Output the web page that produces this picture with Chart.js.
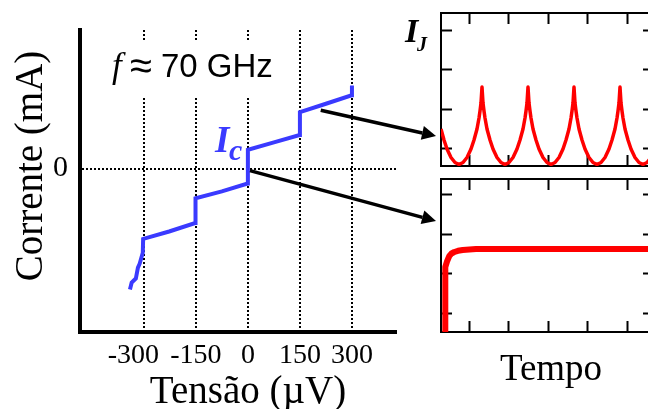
<!DOCTYPE html>
<html>
<head>
<meta charset="utf-8">
<script src="https://cdn.jsdelivr.net/npm/chart.js@4.4.0/dist/chart.umd.min.js"></script>
<style>
  body { margin: 0; background: #fff; overflow: hidden; width: 648px; height: 409px; position: relative; }
  canvas { position: absolute; }
  #curvaIV { left: 0; top: 0; }
  #painelAC { left: 437px; top: 9px; }
  #painelDC { left: 437px; top: 175px; }
</style>
</head>
<body>
<canvas id="curvaIV" width="648" height="409"></canvas>
<canvas id="painelAC" width="222" height="161"></canvas>
<canvas id="painelDC" width="222" height="161"></canvas>
<script>
// curva I-V com degraus de Shapiro (tensao em uV, corrente em unidades arbitrarias)
const tensao = [-340, -335, -323, -317, -312, -303, -302, -227, -152, -151, -75, -1, 0, 75, 149, 150, 225, 299, 300];
const corrente = [-2.44, -2.30, -2.22, -2.00, -1.92, -1.70, -1.42, -1.27, -1.10, -0.60, -0.46, -0.30, 0.38, 0.53, 0.68, 1.14, 1.31, 1.48, 1.68];
const tensaoTicks = [-300, -150, 0, 150, 300];
const correnteTicks = [0];

// I_J(t) no degrau (painel de cima) e em I < Ic (painel de baixo), unidades arbitrarias
const tempoAC = [0, 3, 6, 10, 14, 18, 22, 26, 30, 33, 36, 38, 39, 40, 41,
  42, 43, 44, 46, 49, 52, 56, 60, 64, 68, 72, 76, 79, 82, 84, 85, 86, 87,
  88, 89, 90, 92, 95, 98, 102, 106, 110, 114, 118, 122, 125, 128, 130, 131, 132, 133,
  134, 135, 136, 138, 141, 144, 148, 152, 156, 160, 164, 168, 171, 174, 176, 177, 178, 179,
  180, 181, 182, 184, 187, 190, 194, 198, 202, 206, 210, 213];
const ijAC = [37, 26, 17, 8.5, 3.5, 1.5, 3.5, 8.5, 17, 26, 37, 48, 55, 63, 79,
  63, 55, 48, 37, 26, 17, 8.5, 3.5, 1.5, 3.5, 8.5, 17, 26, 37, 48, 55, 63, 79,
  63, 55, 48, 37, 26, 17, 8.5, 3.5, 1.5, 3.5, 8.5, 17, 26, 37, 48, 55, 63, 79,
  63, 55, 48, 37, 26, 17, 8.5, 3.5, 1.5, 3.5, 8.5, 17, 26, 37, 48, 55, 63, 79,
  63, 55, 48, 37, 26, 17, 8.5, 3.5, 1.5, 3.5, 8.5, 15];
const tempoDC = [4, 4, 4.1, 4.3, 4.8, 6, 8.3, 10.5, 13.3, 17, 21.7, 35, 213];
const ijDC = [-2, 30, 45, 58, 65, 70.5, 76, 78.5, 80, 81.2, 82, 83, 83];
const tempoTicks = [28, 67.5, 107, 146.5, 186];
const ijTicksAC = [18, 57, 97, 136];
const ijTicksDC = [19, 59, 98, 137];

const serif = 'Liberation Serif';
const sans = 'Liberation Sans';

function seta(ctx, x1, y1, x2, y2) {
  const a = Math.atan2(y2 - y1, x2 - x1);
  const L = 14, W = 7;
  const bx = x2 - L * Math.cos(a), by = y2 - L * Math.sin(a);
  ctx.beginPath();
  ctx.moveTo(x1, y1);
  ctx.lineTo(bx, by);
  ctx.lineWidth = 3.5;
  ctx.strokeStyle = '#000';
  ctx.stroke();
  ctx.beginPath();
  ctx.moveTo(x2, y2);
  ctx.lineTo(bx + W * Math.sin(a), by - W * Math.cos(a));
  ctx.lineTo(bx - W * Math.sin(a), by + W * Math.cos(a));
  ctx.closePath();
  ctx.fillStyle = '#000';
  ctx.fill();
}

const anotacoes = {
  id: 'anotacoes',
  beforeDatasetsDraw(chart) {
    const ctx = chart.ctx;
    ctx.save();
    ctx.fillStyle = '#fff';
    ctx.fillRect(104, 40, 176, 56);
    ctx.restore();
  },
  afterDraw(chart) {
    const ctx = chart.ctx;
    const sx = chart.scales.x, sy = chart.scales.y;
    ctx.save();
    ctx.fillStyle = '#000';
    ctx.textBaseline = 'alphabetic';

    ctx.font = 'italic 35px ' + serif;
    ctx.fillText('f', 112, 77);
    ctx.font = '40px ' + sans;
    ctx.fillText('\u2248', 130, 79);
    ctx.font = '33px ' + sans;
    ctx.fillText('70 GHz', 161, 77);

    ctx.fillStyle = '#3a3aff';
    ctx.font = 'italic bold 37px ' + serif;
    ctx.fillText('I', 215, 152);
    ctx.font = 'italic bold 30px ' + serif;
    ctx.fillText('c', 229, 160);

    seta(ctx, sx.getPixelForValue(210), sy.getPixelForValue(1.18), 436, 136);
    seta(ctx, sx.getPixelForValue(6), sy.getPixelForValue(-0.04), 436, 221);

    ctx.fillStyle = '#000';
    ctx.textAlign = 'center';
    ctx.font = '39px ' + serif;
    ctx.fillText('Tens\u00e3o (\u00b5V)', 248, 403);
    ctx.font = '37px ' + serif;
    ctx.fillText('Tempo', 551, 380);

    ctx.save();
    ctx.translate(42, 166);
    ctx.rotate(-Math.PI / 2);
    ctx.font = '39px ' + serif;
    ctx.fillText('Corrente (mA)', 0, 0);
    ctx.restore();

    ctx.textAlign = 'left';
    ctx.font = 'italic bold 34px ' + serif;
    ctx.fillText('I', 405, 42);
    ctx.font = 'italic bold 20px ' + serif;
    ctx.fillText('J', 417, 51);
    ctx.restore();
  }
};

new Chart(document.getElementById('curvaIV'), {
  type: 'line',
  data: {
    datasets: [{
      data: tensao.map((v, i) => ({x: v, y: corrente[i]})),
      borderColor: '#3a3aff',
      borderWidth: 4,
      pointRadius: 0,
      tension: 0,
      fill: false
    }]
  },
  options: {
    responsive: false,
    animation: false,
    layout: {padding: {left: 0, top: 27, right: 252, bottom: 0}},
    plugins: {legend: {display: false}, tooltip: {enabled: false}},
    scales: {
      x: {
        type: 'linear', min: -484, max: 427,
        afterBuildTicks: s => { s.ticks = tensaoTicks.map(v => ({value: v})); },
        afterFit: s => { s.height = 77; },
        ticks: {
          color: '#000', padding: 7, maxRotation: 0,
          font: {family: serif, size: 28},
          callback: v => v === -300 ? '-300   ' : String(v)
        },
        grid: {color: '#000', lineWidth: 2, drawTicks: false},
        border: {display: true, color: '#000', width: 4, dash: [2, 2]}
      },
      y: {
        type: 'linear', min: -3.3, max: 2.8,
        afterBuildTicks: s => { s.ticks = correnteTicks.map(v => ({value: v})); },
        afterFit: s => { s.width = 80; },
        ticks: {color: '#000', padding: 12, font: {family: serif, size: 30}},
        grid: {color: '#000', lineWidth: 2, drawTicks: false},
        border: {display: true, color: '#000', width: 4, dash: [2, 2]}
      }
    }
  },
  plugins: [anotacoes]
});

function eixoPainel(pos, ticks, min, max) {
  return {
    type: 'linear', position: pos, min: min, max: max,
    ticks: {display: false},
    grid: {drawOnChartArea: false, drawTicks: true, tickLength: -11, tickWidth: 2, tickColor: '#000'},
    border: {display: true, color: '#000', width: 2},
    afterBuildTicks: s => { s.ticks = ticks.map(v => ({value: v})); },
    afterFit: s => { if (s.isHorizontal()) s.height = 0; else s.width = 0; }
  };
}

function painel(id, xs, ys, yTicks, largura) {
  new Chart(document.getElementById(id), {
    type: 'line',
    data: {
      datasets: [{
        data: xs.map((t, i) => ({x: t, y: ys[i]})),
        borderColor: '#ff0000',
        borderWidth: largura,
        borderJoinStyle: 'round',
        pointRadius: 0,
        tension: 0,
        fill: false
      }]
    },
    options: {
      responsive: false,
      animation: false,
      layout: {padding: {left: 4, top: 4, right: 5, bottom: 4}},
      plugins: {legend: {display: false}, tooltip: {enabled: false}},
      scales: {
        x: eixoPainel('bottom', tempoTicks, 0, 213),
        x2: eixoPainel('top', tempoTicks, 0, 213),
        y: eixoPainel('left', yTicks, 0, 153),
        y2: eixoPainel('right', yTicks, 0, 153)
      }
    }
  });
}

painel('painelAC', tempoAC, ijAC, ijTicksAC, 3.5);
painel('painelDC', tempoDC, ijDC, ijTicksDC, 6);
</script>
</body>
</html>
